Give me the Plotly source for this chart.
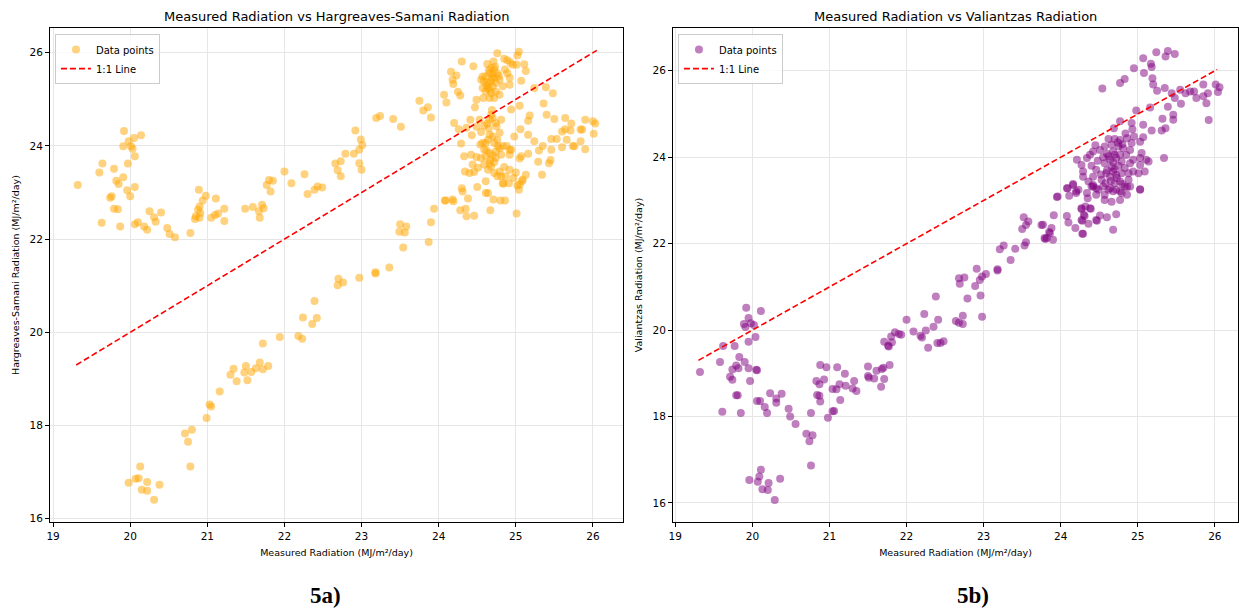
import plotly.graph_objects as go

# ---------------- data: Hargreaves-Samani panel ----------------
hs_pairs = [
 (19.92,24.32),(20.05,24.17),(20.14,24.23),(19.98,24.10),(19.91,23.99),(20.01,23.99),(20.03,23.94),(20.06,23.78),
 (19.64,23.62),(19.97,23.62),(19.60,23.43),(19.79,23.51),(19.91,23.33),(19.82,23.25),(19.85,23.18),(20.06,23.12),
 (19.96,23.05),(19.32,23.16),(19.76,22.92),(19.74,22.89),(20.00,22.92),(19.79,22.65),(19.84,22.64),(19.63,22.35),
 (19.87,22.27),(20.06,22.32),(20.10,22.36),(20.18,22.27),(20.22,22.20),(20.25,22.60),(20.31,22.47),(20.33,22.37),
 (20.40,22.57),(20.48,22.24),(20.51,22.11),(20.58,22.04),(20.78,22.13),(20.89,23.06),(20.98,22.93),(20.94,22.83),
 (20.90,22.70),(20.88,22.63),(20.91,22.56),(20.85,22.49),(20.84,22.43),(20.90,22.46),(21.11,22.87),(21.05,22.46),
 (21.10,22.52),(21.14,22.55),(21.22,22.65),(21.22,22.39),(21.49,22.65),(21.59,22.69),(21.71,22.74),(21.73,22.66),
 (21.67,22.60),(21.68,22.46),(21.80,23.27),(21.85,23.25),(21.77,23.16),(21.82,23.02),(22.00,23.45),(22.09,23.20),
 (22.26,23.39),(22.30,22.97),(22.39,23.06),(22.43,23.13),(22.49,23.11),(22.66,23.62),(22.73,23.67),(22.69,23.48),
 (22.73,23.35),(22.79,23.83),(22.90,23.83),(22.97,23.63),(23.00,23.49),(22.97,23.92),(22.92,24.33),(22.99,24.14),
 (23.01,24.02),(23.19,24.60),(23.24,24.64),(23.41,24.58),(23.51,24.41),(23.75,24.97),(23.80,24.76),(23.86,24.83),
 (23.90,24.61),
 (20.13,17.12),(20.07,16.86),(20.11,16.87),(19.98,16.77),(20.22,16.79),(20.38,16.73),(20.15,16.62),(20.22,16.60),
 (20.31,16.41),(20.78,17.12),(20.75,17.65),(20.71,17.83),(20.80,17.91),(20.99,18.16),(21.03,18.45),(21.05,18.41),
 (21.16,18.73),(21.30,19.09),(21.34,19.22),(21.38,18.95),(21.48,19.14),(21.50,19.28),(21.52,18.97),(21.57,19.15),
 (21.63,19.23),(21.68,19.35),(21.72,19.21),(21.79,19.28),(21.72,19.76),(21.94,19.90),(22.18,19.92),(22.23,19.86),
 (22.24,20.32),(22.36,20.18),(22.42,20.31),(22.39,20.67),(22.69,21.01),(22.70,21.15),(22.76,21.07),(22.97,21.17),
 (23.18,21.29),(23.18,21.26),(23.36,21.39),(23.50,22.32),(23.58,22.27),(23.49,22.16),(23.56,22.14),(23.54,21.82),
 (23.87,21.94),(23.90,22.36),(23.94,22.65),(24.08,22.83),(24.09,22.83),
 (24.07,25.10),(24.10,24.93),(24.16,25.59),(24.18,25.42),(24.19,25.33),(24.23,25.51),(24.25,25.16),(24.28,25.08),
 (24.30,25.81),(24.45,25.71),(24.49,24.99),(24.47,24.83),(24.20,24.49),(24.26,24.36),(24.29,24.05),(24.33,23.78),
 (24.34,23.45),(24.30,23.09),(24.31,23.02),(24.18,22.85),(24.38,22.87),(24.36,24.39),(24.41,24.56),(24.43,24.23),
 (24.49,24.41),(24.55,24.30),(24.53,24.56),(24.59,24.43),(24.66,24.56),(24.69,24.77),(24.68,24.67),(24.65,24.38),
 (24.74,24.49),(24.81,24.56),(24.79,24.28),(24.75,24.42),(24.70,24.20),(24.66,24.24),(24.64,24.13),(24.76,24.13),
 (24.72,24.06),(24.54,24.03),(24.57,24.06),(24.61,24.06),(24.59,23.92),(24.66,23.85),(24.74,23.88),(24.79,23.95),
 (24.83,24.00),(24.88,24.00),(24.92,23.92),(24.81,23.81),(24.74,23.74),(24.67,23.70),(24.61,23.77),(24.55,23.74),
 (24.49,23.76),(24.42,23.81),(24.44,23.60),(24.51,23.53),(24.59,23.60),(24.64,23.49),(24.68,23.56),(24.72,23.42),
 (24.79,23.45),(24.81,23.35),(24.76,23.35),(24.87,23.35),(24.83,23.20),(24.91,23.20),(24.61,23.24),(24.50,23.12),
 (24.61,22.99),(24.64,22.99),(24.46,23.44),(24.40,23.42),(24.63,25.76),(24.68,25.67),(24.72,25.64),(24.66,25.56),
 (24.70,25.53),(24.61,25.49),(24.57,25.49),(24.55,25.42),(24.59,25.38),(24.64,25.35),(24.68,25.38),(24.72,25.46),
 (24.76,25.56),(24.79,25.42),(24.74,25.35),(24.70,25.28),(24.64,25.24),(24.57,25.24),(24.61,25.17),(24.68,25.13),
 (24.74,25.17),(24.79,25.10),(24.58,25.03),(24.66,25.03),(24.72,25.03),(24.76,25.99),(24.71,25.81),(24.85,25.87),
 (24.89,25.84),(24.93,25.79),(24.96,25.74),(25.02,25.94),(25.04,26.02),(25.01,25.74),(25.11,25.75),(25.13,25.61),
 (24.86,25.64),(24.89,25.56),(24.92,25.46),(24.92,25.31),(24.83,25.28),(25.07,25.40),(25.24,25.24),(25.39,25.26),
 (25.48,25.13),(25.36,24.91),(25.05,24.86),(24.94,24.78),(25.18,24.65),(25.16,24.54),(25.40,24.67),(25.50,24.58),
 (25.64,24.60),(25.72,24.48),(25.90,24.56),(26.00,24.53),(26.03,24.48),(26.01,24.26),(25.84,24.35),(25.86,24.35),
 (25.71,24.33),(25.64,24.36),(25.60,24.31),(25.53,24.15),(25.46,24.15),(25.66,24.13),(25.74,24.00),(25.76,23.99),
 (25.84,24.10),(25.90,23.93),(25.60,23.97),(25.46,23.92),(25.35,24.00),(25.30,23.90),(25.24,24.10),(25.16,24.24),
 (25.06,24.36),(24.98,24.20),(24.94,23.92),(24.92,23.81),(25.07,23.78),(25.05,23.73),(25.16,23.83),(25.29,23.66),
 (25.45,23.70),(25.43,23.63),(25.34,23.38),(25.13,23.38),(25.09,23.28),(25.05,23.17),(25.02,23.15),(25.00,23.43),
 (24.92,23.49),(24.97,23.31),(24.19,22.81),(24.28,22.62),(24.35,22.65),(24.36,22.49),(24.46,22.50),(24.67,22.62),
 (24.71,22.85),(24.80,22.83),(24.86,22.83),(24.84,23.19),(25.01,22.55),(25.04,23.06),(25.08,23.24),
 (24.65,25.62),(24.69,25.45),(24.62,25.30),(24.73,25.70),(24.78,25.50),(24.66,25.20),(24.70,24.60),(24.63,24.48),
 (24.72,23.65),(24.66,23.62),(24.70,23.80),(24.77,24.00),(24.62,23.90),(24.85,23.55),
]
measured_hs = [p[0] for p in hs_pairs]
hs_radiation = [p[1] for p in hs_pairs]

# ---------------- data: Valiantzas panel ----------------
val_pairs = [
 (19.32,19.03),(19.92,20.52),(20.11,20.44),(19.95,20.28),(19.89,20.14),(19.91,20.07),(19.98,20.16),(20.02,20.12),
 (20.04,19.84),(19.95,19.73),(19.77,19.63),(19.62,19.63),(19.58,19.26),(19.83,19.38),(19.90,19.26),(19.79,19.18),
 (19.74,19.09),(19.82,19.12),(19.95,19.12),(20.05,19.08),(20.06,19.07),(19.71,18.92),(19.74,18.85),(19.97,18.82),
 (19.79,18.49),(19.81,18.49),(19.61,18.11),(19.85,18.08),(20.06,18.36),(20.10,18.36),(20.16,18.22),(20.19,18.08),
 (20.23,18.54),(20.31,18.42),(20.31,18.32),(20.38,18.53),(20.47,18.18),(20.49,18.00),(20.56,17.83),(20.70,17.60),
 (20.78,17.57),(20.74,17.43),(20.76,16.87),(20.76,18.08),(20.98,17.97),(21.04,18.12),(21.06,18.13),(20.83,18.82),
 (20.87,18.75),(20.88,19.19),(20.96,19.14),(20.93,18.86),(20.84,18.50),(20.87,18.48),(20.88,18.35),(21.10,19.14),
 (21.20,18.99),(21.04,18.64),(21.09,18.63),(21.14,18.38),(21.13,18.75),(21.21,18.71),(21.32,18.82),(21.35,18.59),
 (21.30,18.65),(21.50,19.16),(21.50,18.94),(21.51,18.90),(21.58,18.88),(21.61,19.06),(21.68,19.10),(21.70,19.13),
 (21.67,18.69),(21.71,18.87),(21.78,19.19),(21.71,19.73),(21.76,19.64),(21.81,19.72),(21.80,19.85),(21.85,19.95),
 (21.90,19.91),
 (20.11,16.77),(20.09,16.61),(19.96,16.53),(20.07,16.49),(20.21,16.46),(20.36,16.56),(20.13,16.32),(20.20,16.30),
 (20.29,16.07),
 (21.77,19.62),(21.93,19.89),(22.00,20.24),(22.09,19.97),(22.18,19.87),(22.20,19.83),(22.25,19.99),(22.28,19.59),
 (22.23,20.37),(22.35,20.08),(22.41,20.24),(22.38,20.78),(22.40,19.70),(22.48,19.74),(22.44,19.70),(22.64,20.21),
 (22.68,20.17),(22.73,20.14),(22.73,20.33),(22.79,20.73),(22.96,20.80),(22.98,20.31),(22.68,21.20),(22.75,21.22),
 (22.69,21.07),(22.89,21.02),(22.95,21.16),(22.98,21.24),(23.03,21.30),(22.91,21.42),(23.18,21.41),(23.18,21.38),
 (23.35,21.62),(23.21,21.87),(23.26,21.96),(23.41,21.88),(23.53,21.96),(23.55,22.03),(23.52,22.61),(23.58,22.51),
 (23.55,22.43),(23.50,22.34),(23.75,22.43),(23.79,22.13),(23.82,22.13),(23.90,22.09),(23.86,22.24),(23.88,22.36),
 (23.91,22.66),(24.08,22.64),(24.10,22.49),(24.19,22.36),(24.28,22.23),(24.28,22.53),(24.31,22.64),(24.27,22.80),
 (24.32,22.86),(24.39,22.81),(24.36,22.46),(24.47,22.53),(24.51,22.65),(24.60,22.61),
 (24.08,23.28),(24.16,23.36),(24.23,23.25),(24.20,23.17),(24.11,23.11),(23.95,23.08),(24.35,23.05),(24.42,23.36),
 (24.46,23.28),(24.64,23.28),(24.72,23.25),(24.79,23.17),(24.86,23.31),(25.03,23.25),(24.57,23.01),(24.66,22.97),
 (24.77,23.01),(24.27,22.82),(24.38,22.82),(24.30,22.67),(24.27,22.55),(24.46,22.55),(24.72,22.68),(24.68,22.32),
 (24.29,22.23),(23.85,22.27),(23.80,22.11),(23.77,22.44),
 (25.24,26.43),(25.39,26.46),(25.36,26.33),(25.48,26.39),(25.07,26.29),(25.17,26.16),(25.18,26.09),(24.95,26.06),
 (25.08,25.95),(25.19,25.83),(25.20,25.68),(25.25,25.54),(24.83,25.81),(24.77,25.72),(24.54,25.59),(25.35,25.60),
 (25.44,25.48),(25.48,25.37),(25.55,25.56),(25.62,25.48),(25.68,25.52),(25.73,25.52),(25.76,25.37),(25.85,25.41),
 (25.85,25.68),(25.89,25.25),(25.91,25.48),(26.01,25.68),(26.06,25.62),(26.04,25.51),(25.92,24.86),(25.56,25.24),
 (25.39,25.17),(25.46,24.98),(25.46,24.87),(25.32,24.89),(25.36,24.67),(25.31,24.62),(25.18,24.62),(25.16,25.15),
 (24.98,25.08),(24.92,24.79),(24.93,24.65),(25.07,24.75),(24.77,24.83),(24.69,24.67),(25.07,24.46),(25.03,24.36),
 (25.34,23.98),
 (24.62,24.42),(24.70,24.42),(24.77,24.40),(24.86,24.44),(24.92,24.33),(24.90,24.17),(24.81,24.21),(24.75,24.25),
 (24.66,24.29),(24.57,24.25),(24.51,24.17),(24.42,24.13),(24.38,24.06),(24.34,23.98),(24.21,23.94),(24.27,23.82),
 (24.29,23.67),(24.40,23.80),(24.46,23.71),(24.42,23.55),(24.36,23.44),(24.42,23.32),(24.49,23.25),(24.55,23.32),
 (24.53,23.48),(24.59,23.63),(24.64,23.55),(24.68,23.67),(24.72,23.59),(24.66,23.78),(24.57,23.86),(24.62,24.02),
 (24.70,24.06),(24.77,24.06),(24.68,24.13),(24.79,23.90),(24.83,23.75),(24.79,23.63),(24.88,23.63),(24.94,23.67),
 (24.90,23.86),(24.94,23.94),(25.03,23.98),(25.05,24.10),(25.11,23.94),(25.14,23.90),(25.03,23.82),(25.01,23.63),
 (25.09,23.67),(24.88,23.48),(24.77,23.44),(24.70,23.40),(24.83,23.32),(24.90,23.32),(24.77,23.21),(24.68,23.21),
 (24.62,23.25),(24.57,23.13),(24.86,23.13),(25.03,23.26),(24.29,23.55),(24.40,23.32),(24.16,23.38),(24.09,23.28),
 (24.20,23.21),(24.34,23.17),(24.46,23.13),(23.96,23.09),
 (24.60,24.08),(24.64,23.95),(24.72,23.98),(24.68,23.88),(24.75,23.80),(24.60,23.70),(24.70,23.72),(24.65,23.45),
 (24.58,23.40),(24.73,23.52),(24.80,23.38),(24.52,23.60),(24.48,23.92),(24.55,24.00),(24.85,24.05),(24.80,24.30),
 (24.95,24.48),(24.84,24.55),(24.74,24.34),(24.45,24.28),
]
measured_val = [p[0] for p in val_pairs]
val_radiation = [p[1] for p in val_pairs]

line_hs = [19.3, 26.05]
line_val = [19.3, 26.03]

x_ticks = [19, 20, 21, 22, 23, 24, 25, 26]
y_ticks = [16, 18, 20, 22, 24, 26]

FONT = "DejaVu Sans"
fig = go.Figure()

fig.add_trace(go.Scatter(x=measured_hs, y=hs_radiation, mode="markers", name="Data points",
                         marker=dict(color="orange", opacity=0.5, size=8, line=dict(width=0)),
                         xaxis="x", yaxis="y", legend="legend"))
fig.add_trace(go.Scatter(x=line_hs, y=line_hs, mode="lines", name="1:1 Line",
                         line=dict(color="red", dash="6px,3px", width=1.6),
                         xaxis="x", yaxis="y", legend="legend"))
fig.add_trace(go.Scatter(x=measured_val, y=val_radiation, mode="markers", name="Data points",
                         marker=dict(color="purple", opacity=0.5, size=8, line=dict(width=0)),
                         xaxis="x2", yaxis="y2", legend="legend2"))
fig.add_trace(go.Scatter(x=line_val, y=line_val, mode="lines", name="1:1 Line",
                         line=dict(color="red", dash="6px,3px", width=1.6),
                         xaxis="x2", yaxis="y2", legend="legend2"))

axis_common = dict(showline=True, linecolor="black", linewidth=1, mirror=True,
                   ticks="outside", ticklen=4, tickcolor="black", automargin=False,
                   showgrid=True, gridcolor="#e6e6e6", gridwidth=1, zeroline=False,
                   tickfont=dict(family=FONT, size=10.5, color="black"))
title_font = dict(family=FONT, size=9.5, color="black")

d1 = [50/1239, 623/1239]
d2 = [673/1239, 1238/1239]
dy = [1-522/610, 1-28/610]

fig.update_layout(
    width=1239, height=610,
    margin=dict(l=0, r=0, t=0, b=0),
    paper_bgcolor="white", plot_bgcolor="white",
    font=dict(family=FONT, color="black"),
    xaxis=dict(domain=d1, anchor="y", range=[18.96, 26.39], tickvals=x_ticks,
               title=dict(text="Measured Radiation (MJ/m²/day)", font=title_font, standoff=8), **axis_common),
    yaxis=dict(domain=dy, anchor="x", range=[15.93, 26.53], tickvals=y_ticks,
               title=dict(text="Hargreaves-Samani Radiation (MJ/m²/day)", font=title_font, standoff=8), **axis_common),
    xaxis2=dict(domain=d2, anchor="y2", range=[18.97, 26.30], tickvals=x_ticks,
                title=dict(text="Measured Radiation (MJ/m²/day)", font=title_font, standoff=8), **axis_common),
    yaxis2=dict(domain=dy, anchor="x2", range=[15.56, 26.99], tickvals=y_ticks,
                title=dict(text="Valiantzas Radiation (MJ/m²/day)", font=title_font, standoff=8), **axis_common),
    legend=dict(x=d1[0]+0.004, y=dy[1]-0.01, xanchor="left", yanchor="top",
                bgcolor="rgba(255,255,255,0.8)", bordercolor="#cccccc", borderwidth=1,
                font=dict(family=FONT, size=10), itemwidth=30, tracegroupgap=0),
    legend2=dict(x=d2[0]+0.004, y=dy[1]-0.01, xanchor="left", yanchor="top",
                 bgcolor="rgba(255,255,255,0.8)", bordercolor="#cccccc", borderwidth=1,
                 font=dict(family=FONT, size=10), itemwidth=30, tracegroupgap=0),
    showlegend=True,
    annotations=[
        dict(text="Measured Radiation vs Hargreaves-Samani Radiation", x=(d1[0]+d1[1])/2, y=1-17/610,
             xref="paper", yref="paper", showarrow=False, xanchor="center", yanchor="middle",
             font=dict(family=FONT, size=13, color="black")),
        dict(text="Measured Radiation vs Valiantzas Radiation", x=(d2[0]+d2[1])/2, y=1-17/610,
             xref="paper", yref="paper", showarrow=False, xanchor="center", yanchor="middle",
             font=dict(family=FONT, size=13, color="black")),
        dict(text="<b>5a)</b>", x=325/1239, y=1-595/610, xref="paper", yref="paper", showarrow=False,
             xanchor="center", yanchor="middle", font=dict(family="Liberation Serif", size=23, color="black")),
        dict(text="<b>5b)</b>", x=973/1239, y=1-595/610, xref="paper", yref="paper", showarrow=False,
             xanchor="center", yanchor="middle", font=dict(family="Liberation Serif", size=23, color="black")),
    ],
)

fig.write_html("out.html", config={"displayModeBar": False},
               post_script="document.body.style.margin='0px';document.body.style.overflow='hidden';")
